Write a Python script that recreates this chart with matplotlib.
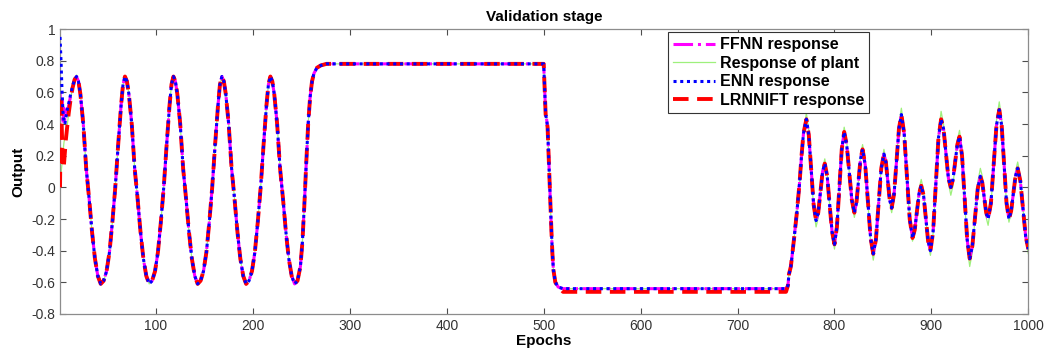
import matplotlib
matplotlib.use("Agg")
import matplotlib.pyplot as plt

plt.rcParams['font.family'] = ['Liberation Sans', 'DejaVu Sans']

# ---------------- data ----------------
epochs = [
    1, 2, 3, 4, 5, 6, 7, 8, 10, 12, 14, 16, 18,
    20, 22, 25, 28, 31, 34, 37, 40, 43,
    46, 49, 52, 55, 58, 61, 64, 66, 68, 70, 72, 75, 78, 81, 84, 87, 90, 93,
    96, 99, 102, 105, 108, 111, 114, 116, 118, 120, 122, 125, 128, 131, 134, 137, 140, 143,
    146, 149, 152, 155, 158, 161, 164, 166, 168, 170, 172, 175, 178, 181, 184, 187, 190, 193,
    196, 199, 202, 205, 208, 211, 214, 216, 218, 220, 222, 225, 228, 231, 234, 237, 240, 243,
    246, 249, 251, 253, 255, 257, 259, 261, 263, 266, 270, 276, 300, 350, 400, 450,
    500, 501, 502, 503, 504, 505, 506, 507, 508, 509, 510, 512, 515, 520, 600, 700,
    750, 752, 753, 755, 758, 761, 764, 766, 768, 771,
    773.5, 776, 778.5, 781, 783.25, 785.5, 787.75, 790, 792.5, 795, 797.5, 800,
    802.5, 805, 807.5, 810, 812.6, 815.25, 817.9, 820.5, 822.6, 824.75, 826.9, 829,
    831.75, 834.5, 837.25, 840, 842.75, 845.5, 848.25, 851, 853, 855, 857, 859,
    861.5, 864, 866.5, 869, 871.9, 874.75, 877.6, 880.5, 882.75, 885, 887.25, 889.5,
    891.9, 894.25, 896.6, 899, 901.75, 904.5, 907.25, 910, 912.5, 915, 917.5, 920,
    922.25, 924.5, 926.75, 929, 931.6, 934.25, 936.9, 939.5, 942.25, 945, 947.75, 950.5,
    952.5, 954.5, 956.5, 958.5, 961.4, 964.25, 967.1, 970, 972.5, 975, 977.5, 980,
    982.25, 984.5, 986.75, 989, 991.75, 994.5, 997.25, 1000,
]

# shared part of the network responses after the start-up transient (from epoch 20)
net_body = [
    0.67, 0.59, 0.40, 0.12, -0.07, -0.28, -0.45, -0.56, -0.61,
    -0.59, -0.53, -0.41, -0.22, 0.00, 0.27, 0.52, 0.65, 0.70, 0.67, 0.59, 0.40, 0.12, -0.07, -0.28, -0.45, -0.56, -0.61,
    -0.59, -0.53, -0.41, -0.22, 0.00, 0.27, 0.52, 0.65, 0.70, 0.67, 0.59, 0.40, 0.12, -0.07, -0.28, -0.45, -0.56, -0.61,
    -0.59, -0.53, -0.41, -0.22, 0.00, 0.27, 0.52, 0.65, 0.70, 0.67, 0.59, 0.40, 0.12, -0.07, -0.28, -0.45, -0.56, -0.61,
    -0.59, -0.53, -0.41, -0.22, 0.00, 0.27, 0.52, 0.65, 0.70, 0.67, 0.59, 0.40, 0.12, -0.07, -0.28, -0.45, -0.56, -0.61,
    -0.59, -0.50, -0.35, -0.12, 0.15, 0.40, 0.57, 0.67, 0.72, 0.755, 0.77, 0.78, 0.78, 0.78, 0.78, 0.78,
    0.78, 0.62, 0.46, 0.43, 0.38, 0.22, 0.05, -0.12, -0.28, -0.42, -0.52, -0.60, -0.63, -0.64, -0.64, -0.64,
    -0.64, -0.62, -0.55, -0.50, -0.34, -0.17, 0.03, 0.20, 0.34, 0.43,
    0.33, 0.11, -0.11, -0.21, -0.16, -0.03, 0.10, 0.15, 0.07, -0.11, -0.28, -0.36,
    -0.25, -0.01, 0.24, 0.35, 0.27, 0.095, -0.08, -0.16, -0.10, 0.04, 0.18, 0.24,
    0.14, -0.09, -0.32, -0.42, -0.33, -0.105, 0.12, 0.21, 0.16, 0.04, -0.08, -0.13,
    -0.04, 0.165, 0.37, 0.46, 0.34, 0.07, -0.20, -0.32, -0.27, -0.155, -0.04, 0.01,
    -0.05, -0.195, -0.34, -0.40, -0.28, 0.015, 0.31, 0.43, 0.37, 0.215, 0.06, 0.00,
    0.05, 0.16, 0.27, 0.32, 0.20, -0.065, -0.33, -0.45, -0.37, -0.19, -0.01, 0.07,
    0.03, -0.065, -0.16, -0.20, -0.10, 0.145, 0.39, 0.49, 0.39, 0.145, -0.10, -0.20,
    -0.15, -0.04, 0.07, 0.12, 0.04, -0.135, -0.31, -0.39,
]

# start-up transients (epochs 1 ... 18)
enn_start = [0.95, 0.80, 0.62, 0.48, 0.42, 0.40, 0.44, 0.48, 0.53, 0.59, 0.64, 0.68, 0.70]
lrnnift_start = [0.00, 0.58, 0.33, 0.12, 0.14, 0.22, 0.30, 0.36, 0.47, 0.56, 0.63, 0.68, 0.70]
ffnn_start = [0.60, 0.45, 0.55, 0.40, 0.50, 0.42, 0.45, 0.46, 0.52, 0.58, 0.64, 0.68, 0.70]
plant_start = [0.00, 0.08, 0.15, 0.22, 0.28, 0.32, 0.34, 0.37, 0.47, 0.56, 0.63, 0.68, 0.71]

# plant output in the last (multi-sine) segment, epochs 771 ... 1000
plant_tail = [
    0.47,
    0.36, 0.11, -0.14, -0.25, -0.19, -0.04, 0.12, 0.18, 0.09, -0.11, -0.30, -0.39,
    -0.27, -0.005, 0.26, 0.38, 0.29, 0.095, -0.10, -0.19, -0.12, 0.04, 0.20, 0.27,
    0.16, -0.095, -0.35, -0.46, -0.355, -0.11, 0.135, 0.24, 0.18, 0.04, -0.10, -0.16,
    -0.06, 0.17, 0.40, 0.50, 0.37, 0.08, -0.21, -0.34, -0.28, -0.145, -0.01, 0.05,
    -0.02, -0.19, -0.36, -0.43, -0.29, 0.025, 0.34, 0.48, 0.40, 0.215, 0.03, -0.05,
    0.01, 0.155, 0.30, 0.36, 0.23, -0.07, -0.37, -0.50, -0.41, -0.19, 0.03, 0.12,
    0.07, -0.06, -0.19, -0.24, -0.12, 0.15, 0.42, 0.54, 0.43, 0.16, -0.11, -0.22,
    -0.16, -0.03, 0.10, 0.16, 0.07, -0.13, -0.33, -0.42,
]

lrnnift_low_plateau = -0.66   # LRNNIFT level between epochs 520 and 750

legend_labels = ['FFNN response', 'Response of plant', 'ENN response', 'LRNNIFT response']
x_ticks = [100, 200, 300, 400, 500, 600, 700, 800, 900, 1000]
y_ticks = [-0.8, -0.6, -0.4, -0.2, 0, 0.2, 0.4, 0.6, 0.8, 1]

# ---------------- build series ----------------
enn = enn_start + net_body
ffnn = ffnn_start + net_body
lrnnift = lrnnift_start + net_body
idx_520 = epochs.index(520)
idx_750 = epochs.index(750)
for i in range(idx_520, idx_750 + 1):
    lrnnift[i] = lrnnift_low_plateau
idx_771 = epochs.index(771)
plant = plant_start + net_body[:idx_771 - len(plant_start)] + plant_tail

# ---------------- plot ----------------
fig = plt.figure(figsize=(10.44, 3.54), dpi=100)
ax = fig.add_axes([0.0575, 0.113, 0.9275, 0.805])

l1, = ax.plot(epochs, ffnn, color=(1, 0, 1), linestyle='-.', linewidth=2.2, zorder=2)
l2, = ax.plot(epochs, plant, color='#9ef07c', linestyle='-', linewidth=0.9, zorder=1)
l4, = ax.plot(epochs, lrnnift, color=(1, 0, 0), linestyle=(0, (4, 2.2)), linewidth=2.8, zorder=3)
l3, = ax.plot(epochs, enn, color=(0, 0, 1), linestyle=(0, (1, 1.2)), linewidth=2.2, zorder=4)

ax.set_xlim(1, 1000)
ax.set_ylim(-0.8, 1)
ax.set_xticks(x_ticks)
ax.set_yticks(y_ticks)
ax.set_yticklabels([('%g' % v) for v in y_ticks])
ax.tick_params(direction='in', length=4, width=0.8, colors='#4d4d4d', labelsize=10,
               top=True, right=True, labelcolor='#333333')
for s in ax.spines.values():
    s.set_color('#8c8c8c')
    s.set_linewidth(0.9)

ax.set_title('Validation stage', fontsize=11, fontweight='bold', pad=6)
ax.set_xlabel('Epochs', fontsize=11, fontweight='bold', labelpad=1)
ax.set_ylabel('Output', fontsize=11, fontweight='bold', labelpad=4)

leg = ax.legend([l1, l2, l3, l4], legend_labels, loc='upper right',
                bbox_to_anchor=(0.835, 0.988), fontsize=11.5, frameon=True,
                fancybox=False, framealpha=1, edgecolor='#333333',
                handlelength=2.6, handletextpad=0.3, borderpad=0.3, labelspacing=0.22,
                borderaxespad=0)
for t in leg.get_texts():
    t.set_fontweight('bold')
leg.get_frame().set_linewidth(0.8)

fig.savefig('out.png', dpi=100)
